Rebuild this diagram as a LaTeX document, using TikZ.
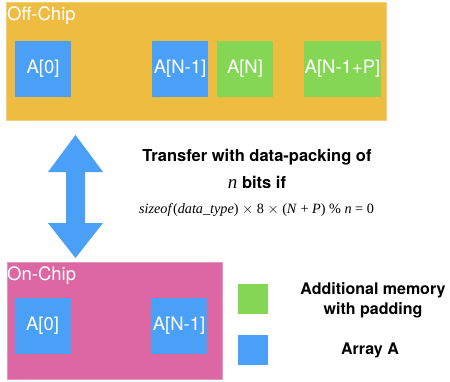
\documentclass[tikz,border=0pt]{standalone}
\usepackage{fontspec}
\setmainfont{TeX Gyre Heros}
\newfontfamily\formulafont{Liberation Serif}
\definecolor{offchip}{HTML}{EDBC40}
\definecolor{onchip}{HTML}{DD67A2}
\definecolor{arrblue}{HTML}{4AA0F6}
\definecolor{padgreen}{HTML}{84D654}
\tikzset{
  x=1pt, y=-1pt,
  region/.style={draw=#1!70!white, line width=0.6pt, fill=#1, anchor=north west, inner sep=0pt},
  cell/.style={fill=#1, draw=none, minimum width=56pt, minimum height=56pt, inner sep=0pt,
               text=white, font=\fontsize{18.5}{20}\selectfont},
  regionlabel/.style={anchor=north west, text=white, font=\fontsize{18.5}{20}\selectfont, inner sep=0pt},
  legendbox/.style={fill=#1, minimum width=30pt, minimum height=30pt, inner sep=0pt},
  legendtext/.style={font=\bfseries\fontsize{16}{20}\selectfont, align=center},
}
\begin{document}
\begin{tikzpicture}
\useasboundingbox (0,0) rectangle (450,381);

% off-chip memory
\node[region=offchip, minimum width=380pt, minimum height=118pt] (off) at (6,2) {};
\node[regionlabel] (offlbl) at (7,6) {Off-Chip};
\node[cell=arrblue] (o0) at (43,69) {A[0]};
\node[cell=arrblue] (o1) at (180,69) {A[N-1]};
\node[cell=padgreen] (o2) at (245,69) {A[N]};
\node[cell=padgreen, minimum width=77pt] (o3) at (342.5,69) {A[N-1+P]};

% on-chip memory
\node[region=onchip, minimum width=215pt, minimum height=117pt] (on) at (7,262) {};
\node[regionlabel] (onlbl) at (7,266) {On-Chip};
\node[cell=arrblue] (n0) at (42.5,326) {A[0]};
\node[cell=arrblue] (n1) at (179,326) {A[N-1]};

% transfer arrow
\fill[arrblue] (75.5,135) -- (103,172) -- (85,172) -- (85,223) -- (103,223)
  -- (75.5,258) -- (48,223) -- (66,223) -- (66,172) -- (48,172) -- cycle;

% transfer condition
\node[font=\bfseries\fontsize{16.5}{20}\selectfont, inner sep=0pt] (t1) at (257,157) {Transfer with data-packing of};
\node[font=\bfseries\fontsize{16.5}{20}\selectfont, inner sep=0pt] (t2) at (257,182) {{\formulafont\mdseries\itshape\fontsize{19}{20}\selectfont n} bits if};
\node[font=\formulafont\fontsize{14.2}{16}\selectfont, inner sep=0pt] (t3) at (256.5,210)
  {\textit{sizeof}(\textit{data\_type}) $\times$ 8 $\times$ (\textit{N} + \textit{P}) \% \textit{n} = 0};

% legend
\node[legendbox=padgreen] (lg) at (253,299) {};
\node[legendtext] (lgt) at (373,300) {Additional memory\\with padding};
\node[legendbox=arrblue] (lb) at (253,349.5) {};
\node[legendtext] (lbt) at (370,350) {Array A};
\end{tikzpicture}
\end{document}
